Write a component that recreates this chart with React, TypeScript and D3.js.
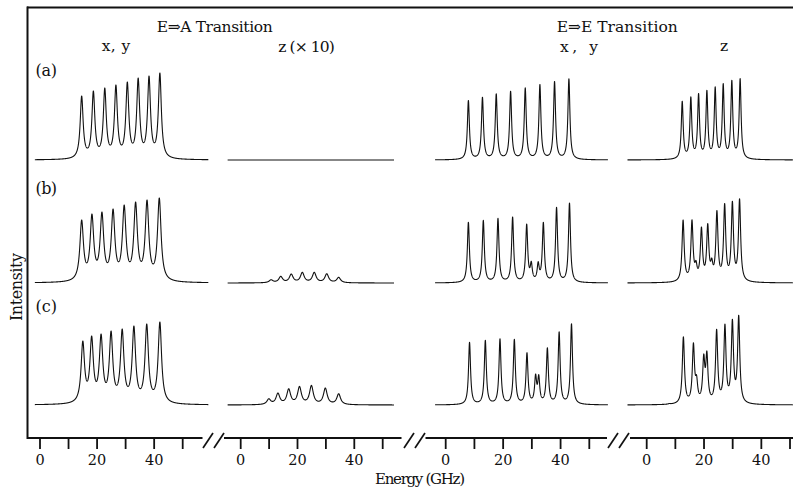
import React, { useMemo } from "react";
import * as d3 from "d3";

const W = 793;
const H = 489;

// ---- labels ----
const rowLabels = ["(a)", "(b)", "(c)"];
const transitionTitles = ["E⇒A Transition", "E⇒E Transition"];
const panelTitles = ["x, y", "z (× 10)", "x, y", "z"];
const tickValues = [0, 10, 20, 30, 40, 50];
const tickLabelValues = [0, 20, 40];
const yAxisLabel = "Intensity";
const xAxisLabel = "Energy (GHz)";

// ---- E⇒A transition, x,y polarisation: line centres (GHz) and peak heights ----
const eaXyCentersA = [14.6, 18.7, 22.7, 26.6, 30.6, 34.4, 38.2, 42.0];
const eaXyHeightsA = [64, 69, 72, 75, 78, 82, 84, 87];
const eaXyCentersB = [14.6, 18.2, 21.7, 25.6, 29.5, 33.5, 37.5, 41.8];
const eaXyHeightsB = [63, 69, 71, 74, 78, 81, 83, 85];
const eaXyCentersC = [15.0, 18.1, 21.4, 24.9, 28.8, 32.9, 37.4, 42.0];
const eaXyHeightsC = [64, 69, 71, 74, 76, 79, 81, 83];
const eaXyWidths = [0.62, 0.75, 0.72];

// ---- E⇒A transition, z polarisation (scaled x10) ----
const eaZCentersA: number[] = [];
const eaZHeightsA: number[] = [];
const eaZCentersB = [10.7, 14.1, 17.8, 21.7, 25.9, 30.3, 34.5];
const eaZHeightsB = [3.3, 6.7, 9, 10.7, 10.7, 9.3, 5.7];
const eaZCentersC = [9.9, 13.1, 16.9, 20.7, 24.9, 29.8, 34.5];
const eaZHeightsC = [6.3, 12, 16.3, 18.6, 19.6, 17, 11.3];
const eaZWidths = [0.8, 0.8, 0.8];

// ---- E⇒E transition, x,y polarisation ----
const eeXyCentersA = [7.9, 12.8, 17.6, 22.6, 27.7, 32.8, 37.9, 42.9];
const eeXyHeightsA = [59.5, 62.8, 66.2, 68.8, 72.2, 75.5, 78.5, 81.2];
const eeXyCentersB = [7.9, 13.1, 18.2, 23.3, 28.2, 29.8, 32.2, 34.0, 38.6, 43.1];
const eeXyHeightsB = [60.7, 62.7, 64.7, 66, 59, 21.7, 21.3, 60.7, 75.7, 80];
const eeXyCentersC = [8.3, 13.8, 18.9, 23.9, 28.3, 31.3, 32.4, 35.4, 39.5, 43.8];
const eeXyHeightsC = [62.7, 64.8, 66.3, 65.7, 52.3, 31, 30.3, 57.3, 73.2, 81.3];
const eeXyWidths = [0.42, 0.42, 0.42];

// ---- E⇒E transition, z polarisation ----
const eeZCentersA = [12.4, 15.4, 18.1, 21.0, 23.9, 26.7, 29.7, 32.6];
const eeZHeightsA = [58.8, 63.2, 66.5, 69.8, 73.2, 76.5, 79.8, 81.5];
const eeZCentersB = [12.7, 15.8, 17.2, 19.1, 21.3, 22.7, 24.5, 27.2, 29.9, 32.4];
const eeZHeightsB = [63, 63.2, 22.5, 56, 59.5, 25, 72.5, 79.5, 81.8, 84.2];
const eeZCentersC = [7.9, 12.8, 16.3, 17.4, 19.9, 21.0, 24.4, 27.3, 29.9, 32.1];
const eeZHeightsC = [1.5, 68.2, 62.2, 30, 51, 54, 75.8, 81, 85.8, 89.8];
const eeZWidths = [0.4, 0.45, 0.45];

const spectra = [
  { centers: [eaXyCentersA, eaXyCentersB, eaXyCentersC], heights: [eaXyHeightsA, eaXyHeightsB, eaXyHeightsC], widths: eaXyWidths },
  { centers: [eaZCentersA, eaZCentersB, eaZCentersC], heights: [eaZHeightsA, eaZHeightsB, eaZHeightsC], widths: eaZWidths },
  { centers: [eeXyCentersA, eeXyCentersB, eeXyCentersC], heights: [eeXyHeightsA, eeXyHeightsB, eeXyHeightsC], widths: eeXyWidths },
  { centers: [eeZCentersA, eeZCentersB, eeZCentersC], heights: [eeZHeightsA, eeZHeightsB, eeZHeightsC], widths: eeZWidths },
];

// ---- layout ----
const panelRanges: [number, number][] = [
  [40, 182.7],
  [240.7, 382.7],
  [445.7, 589.3],
  [646.7, 790],
];
// energy span over which each trace is drawn
const traceSpans: [number, number][] = [
  [-1.8, 59],
  [-4.6, 54],
  [-3.7, 56.5],
  [-6.7, 51],
];
const axisSegments: [number, number][] = [
  [27, 202.5],
  [224, 401.5],
  [425.5, 607],
  [630, 793],
];
const rowBaselines = [160, 283, 405];
const AXIS_Y = 438;
const INK = "#111";
const FONT = "'DejaVu Serif', 'Liberation Serif', serif";

const lorentz = (d: number, g: number) => 1 / (1 + (d / g) * (d / g));

// Solve for line amplitudes so the summed profile reaches each listed peak height.
function solveAmplitudes(centers: number[], heights: number[], g: number) {
  const n = centers.length;
  const M = centers.map((ci, i) => [...centers.map((cj) => lorentz(ci - cj, g)), heights[i]]);
  for (let k = 0; k < n; k++) {
    let p = k;
    for (let i = k + 1; i < n; i++) if (Math.abs(M[i][k]) > Math.abs(M[p][k])) p = i;
    [M[k], M[p]] = [M[p], M[k]];
    for (let i = k + 1; i < n; i++) {
      const f = M[i][k] / M[k][k];
      for (let j = k; j <= n; j++) M[i][j] -= f * M[k][j];
    }
  }
  const a = new Array(n).fill(0);
  for (let i = n - 1; i >= 0; i--) {
    let s = M[i][n];
    for (let j = i + 1; j < n; j++) s -= M[i][j] * a[j];
    a[i] = s / M[i][i];
  }
  return a;
}

function profile(centers: number[], heights: number[], g: number, span: [number, number]) {
  const amps = solveAmplitudes(centers, heights, g);
  const pts: [number, number][] = [];
  const step = 0.03;
  for (let x = span[0]; x <= span[1] + 1e-9; x += step) {
    let y = 0;
    for (let i = 0; i < centers.length; i++) y += amps[i] * lorentz(x - centers[i], g);
    pts.push([x, y]);
  }
  return pts;
}

function BreakMark({ x }: { x: number }) {
  // two slanted strokes marking a broken energy axis
  return (
    <g stroke={INK} strokeWidth={1.7}>
      <line x1={x - 10} y1={AXIS_Y + 10} x2={x} y2={AXIS_Y - 5} />
      <line x1={x + 1} y1={AXIS_Y + 10} x2={x + 11} y2={AXIS_Y - 5} />
    </g>
  );
}

export default function App() {
  const panels = useMemo(
    () =>
      panelRanges.map((range, p) => {
        const xs = d3.scaleLinear().domain([0, 50]).range(range);
        const traces = rowBaselines.map((base, r) => {
          const ys = d3.scaleLinear().domain([0, 100]).range([base, base - 100]);
          const pts = profile(spectra[p].centers[r], spectra[p].heights[r], spectra[p].widths[r], traceSpans[p]);
          const line = d3
            .line<[number, number]>()
            .x((d) => xs(d[0]))
            .y((d) => ys(d[1]));
          return line(pts) || "";
        });
        return { xs, traces };
      }),
    []
  );

  return (
    <svg
      width={W}
      height={H}
      viewBox={`0 0 ${W} ${H}`}
      style={{ position: "absolute", left: 0, top: 0, display: "block" }}
      fontFamily={FONT}
    >
      <rect width={W} height={H} fill="#fff" />

      {/* frame */}
      <line x1={27} y1={7.5} x2={W} y2={7.5} stroke={INK} strokeWidth={1.8} />
      <line x1={27.5} y1={6.6} x2={27.5} y2={AXIS_Y + 1} stroke={INK} strokeWidth={2} />

      {/* energy axis */}
      {axisSegments.map(([a, b], i) => (
        <line key={i} x1={a} y1={AXIS_Y} x2={b} y2={AXIS_Y} stroke={INK} strokeWidth={1.8} />
      ))}
      <BreakMark x={213} />
      <BreakMark x={414} />
      <BreakMark x={618} />

      {panels.map(({ xs }, p) => (
        <g key={p}>
          {tickValues.map((t) => (
            <line key={t} x1={xs(t)} x2={xs(t)} y1={AXIS_Y} y2={AXIS_Y + 11} stroke={INK} strokeWidth={1.8} />
          ))}
          {tickLabelValues.map((t) => (
            <text key={t} x={xs(t)} y={464.5} textAnchor="middle" fontSize={14.5} fill={INK}>
              {t}
            </text>
          ))}
        </g>
      ))}

      {/* spectra */}
      {panels.map(({ traces }, p) =>
        traces.map((d, r) => (
          <path key={`${p}-${r}`} d={d} fill="none" stroke={INK} strokeWidth={1.1} strokeLinejoin="round" />
        ))
      )}

      {/* titles */}
      <text x={156.7} y={32} fontSize={15.5} fill={INK} textLength={116} lengthAdjust="spacing">
        {transitionTitles[0]}
      </text>
      <text x={556.7} y={32} fontSize={15.5} fill={INK} textLength={121} lengthAdjust="spacing">
        {transitionTitles[1]}
      </text>
      <text x={101.7} y={51} fontSize={15.5} fill={INK} textLength={28.5} lengthAdjust="spacing">
        {panelTitles[0]}
      </text>
      <text x={278.3} y={52} fontSize={15.5} fill={INK} textLength={56.5} lengthAdjust="spacing">
        {panelTitles[1]}
      </text>
      <text x={560} y={51.5} fontSize={15.5} fill={INK} textLength={38} lengthAdjust="spacing">
        {panelTitles[2]}
      </text>
      <text x={720} y={51} fontSize={15.5} fill={INK}>
        {panelTitles[3]}
      </text>

      {/* row labels */}
      {rowLabels.map((lab, r) => (
        <text key={lab} x={35.5} y={[76, 194, 312][r]} fontSize={16} fill={INK} textLength={21.5} lengthAdjust="spacing">
          {lab}
        </text>
      ))}

      {/* axis titles */}
      <text
        transform="translate(22,287) rotate(-90)"
        textAnchor="middle"
        fontSize={16}
        fill={INK}
        textLength={68}
        lengthAdjust="spacing"
      >
        {yAxisLabel}
      </text>
      <text x={375} y={484} fontSize={15} fill={INK} textLength={90} lengthAdjust="spacing">
        {xAxisLabel}
      </text>
    </svg>
  );
}
